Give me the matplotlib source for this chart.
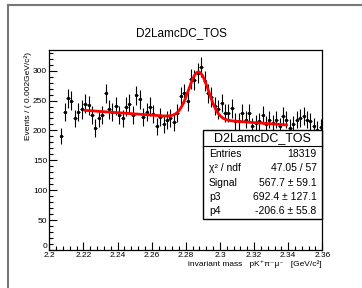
import numpy as np
import matplotlib
matplotlib.use("Agg")
import matplotlib.pyplot as plt
from matplotlib.patches import Rectangle
from matplotlib.lines import Line2D
from matplotlib.ticker import MultipleLocator, FuncFormatter

plt.rcParams['font.family'] = ['Liberation Sans', 'DejaVu Sans']

# ---- data ----
bin_width = 0.002
first_bin_center = 2.207
counts = [191, 231, 254, 250, 220, 231, 235, 245, 242, 226,
          204, 220, 226, 262, 235, 231, 241, 226, 220, 240,
          245, 226, 259, 252, 223, 231, 240, 228, 207, 223,
          211, 217, 221, 214, 229, 257, 262, 249, 286, 285,
          296, 306, 282, 262, 256, 241, 235, 246, 229, 229,
          237, 215, 215, 229, 218, 229, 207, 212, 215, 226,
          210, 218, 212, 218, 207, 224, 218, 204, 210, 218,
          221, 224, 218, 215, 207, 201, 205]

# fit parameters (from stats box) and shape
signal = 567.7
mean = 2.2875
sigma = 0.0058
p3 = 692.4
p4 = -206.6
fit_range = (2.221, 2.339)

stats_labels = ["Entries", "χ² / ndf", "Signal", "p3", "p4"]
stats_values = ["18319", "47.05 / 57", "567.7 ± 59.1", "692.4 ± 127.1", "-206.6 ± 55.8"]

xticks = [2.2, 2.22, 2.24, 2.26, 2.28, 2.3, 2.32, 2.34, 2.36]
yticks = [0, 50, 100, 150, 200, 250, 300]

W, H = 362, 288
fig = plt.figure(figsize=(W / 100, H / 100), dpi=100)

def fx(px):
    return px / W

def fy(py):
    return 1 - py / H

# canvas border (gray)
fig.add_artist(Line2D([fx(8), 1.0], [fy(4.5), fy(4.5)], color='#777777', lw=1.5))
fig.add_artist(Line2D([fx(8), fx(8)], [fy(4.5), 0.0], color='#777777', lw=1.5))

ax = fig.add_axes([fx(49.3), fy(250), fx(322.3) - fx(49.3), fy(50) - fy(250)])

centers = first_bin_center + bin_width * np.arange(len(counts))
counts_arr = np.array(counts, dtype=float)
ax.errorbar(centers, counts_arr, yerr=np.sqrt(counts_arr), xerr=bin_width / 2,
            fmt='o', ms=1.4, color='black', ecolor='black', elinewidth=0.8,
            capsize=0, zorder=3)

xf = np.linspace(fit_range[0], fit_range[1], 400)
amp = signal * bin_width / (np.sqrt(2 * np.pi) * sigma)
yf = amp * np.exp(-0.5 * ((xf - mean) / sigma) ** 2) + p3 + p4 * xf
ax.plot(xf, yf, color='#ff0000', lw=2.0, zorder=4)

ax.set_xlim(2.2, 2.36)
ax.set_ylim(0, 334.5)
ax.set_xticks(xticks)
ax.set_yticks(yticks)
ax.xaxis.set_minor_locator(MultipleLocator(0.004))
ax.yaxis.set_minor_locator(MultipleLocator(10))
ax.xaxis.set_major_formatter(FuncFormatter(lambda v, p: f"{v:g}"))
ax.yaxis.set_major_formatter(FuncFormatter(lambda v, p: f"{v:g}"))
ax.tick_params(axis='both', which='major', direction='in', length=6, width=0.8,
               labelsize=6, pad=1.5)
ax.tick_params(axis='both', which='minor', direction='in', length=3, width=0.8)
ax.tick_params(top=False, right=False, which='both')
for s in ax.spines.values():
    s.set_linewidth(0.9)

# lift the "0" label slightly so it does not collide with "2.2"
fig.canvas.draw()
ylabels = ax.get_yticklabels()
if ylabels:
    ylabels[0].set_va('bottom')

# title
fig.text(fx(181), fy(33), "D2LamcDC_TOS", ha='center', va='center', fontsize=8.5)

# axis titles
fig.text(fx(28), fy(52), "Events / ( 0.002GeV/c²)", rotation=90,
         ha='center', va='top', fontsize=6)
fig.text(fx(322), fy(264), "invariant mass   pK⁺π⁻μ⁻   [GeV/c²]",
         ha='right', va='center', fontsize=6)

# stats box
bx0, bx1, by0, by1 = 202.7, 322.3, 130, 219
fig.add_artist(Rectangle((fx(bx0), fy(by1)), fx(bx1) - fx(bx0), fy(by0) - fy(by1),
                         facecolor='white', edgecolor='black', lw=1.0, zorder=10))
fig.add_artist(Line2D([fx(bx0), fx(bx1)], [fy(146), fy(146)], color='black', lw=0.8, zorder=11))
fig.text(fx((bx0 + bx1) / 2), fy(138), "D2LamcDC_TOS", ha='center', va='center',
         fontsize=9, zorder=12)
row_y = [154, 168.3, 182.7, 197, 211.5]
for lab, val, yy in zip(stats_labels, stats_values, row_y):
    fig.text(fx(209), fy(yy), lab, ha='left', va='center', fontsize=7.5, zorder=12)
    fig.text(fx(316.7), fy(yy), val, ha='right', va='center', fontsize=7.5, zorder=12)

fig.savefig("out.png", dpi=100)
